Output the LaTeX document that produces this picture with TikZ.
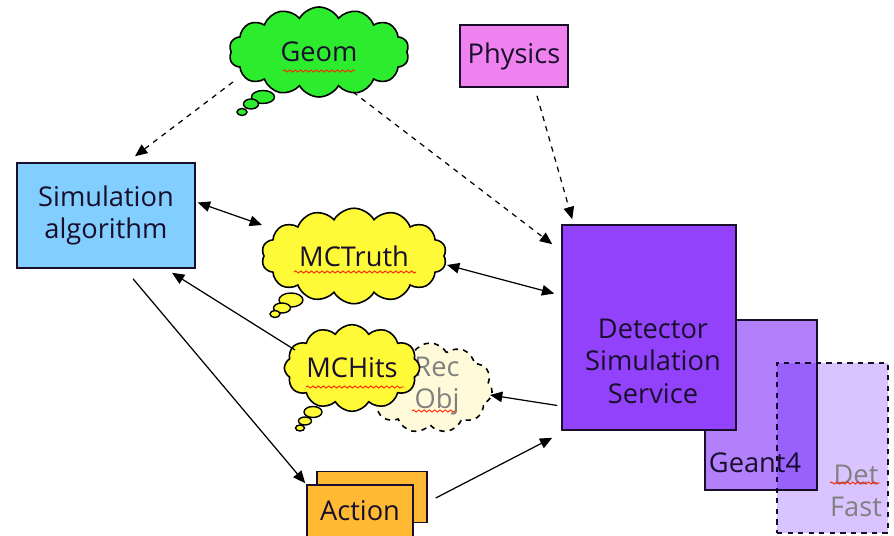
\documentclass[tikz,border=0pt]{standalone}
\usepackage{fontspec}
\setmainfont{Open Sans}
\definecolor{geomGreen}{RGB}{45,235,45}
\definecolor{truthYellow}{RGB}{255,250,55}
\definecolor{recPale}{RGB}{255,251,218}
\definecolor{simBlue}{RGB}{130,206,255}
\definecolor{physPink}{RGB}{240,130,240}
\definecolor{detPurple}{RGB}{145,66,250}
\definecolor{geantPurple}{RGB}{178,128,250}
\definecolor{fastLilac}{RGB}{218,196,255}
\definecolor{actionOrange}{RGB}{255,185,50}
\definecolor{inkDark}{RGB}{25,15,45}
\usetikzlibrary{arrows.meta,positioning,shapes.geometric,shapes.symbols,calc,decorations.pathmorphing}

\begin{document}
\begin{tikzpicture}[x=0.02cm, y=-0.02cm,
    box/.style={rectangle, draw=inkDark, line width=0.9pt, inner sep=0pt,
                font=\fontsize{15.5}{18.5}\selectfont\color{inkDark}, align=center},
    thought/.style={cloud, cloud puffs=14, cloud puff arc=120, draw=black,
                    line width=0.9pt, inner sep=0pt, aspect=2,
                    font=\fontsize{15.5}{18.5}\selectfont\color{inkDark}},
    bubble/.style={ellipse, draw=black, line width=0.8pt, inner sep=0pt},
    caption/.style={font=\fontsize{15.5}{18.5}\selectfont\color{inkDark}, align=center},
    link/.style={-{Triangle[length=7pt,width=6pt]}, line width=0.7pt, black},
    twoway/.style={{Triangle[length=7pt,width=6pt]}-{Triangle[length=7pt,width=6pt]}, line width=0.7pt, black},
    hint/.style={link, dashed},
    squiggle/.style={red!75!orange, line width=0.5pt, decorate,
                     decoration={snake, amplitude=0.6pt, segment length=3pt}}
  ]
  \useasboundingbox (0,0) rectangle (894,536);

  % geometry cloud
  \node[thought, fill=geomGreen, minimum width=36mm, minimum height=18mm] (geom) at (319,52) {Geom};
  \node[bubble, fill=geomGreen, minimum width=4.6mm, minimum height=2.6mm] (geomt1) at (263,97) {};
  \node[bubble, fill=geomGreen, minimum width=3mm, minimum height=2mm] (geomt2) at (251,104) {};
  \node[bubble, fill=geomGreen, minimum width=2mm, minimum height=1.4mm] (geomt3) at (242,112) {};

  % boxes
  \node[box, fill=physPink, minimum width=21.6mm, minimum height=12.4mm] (phys) at (514,56) {Physics};
  \node[box, fill=simBlue, minimum width=35.6mm, minimum height=21mm] (sim) at (106,215.5) {Simulation\\algorithm};

  % MC truth cloud
  \node[thought, fill=truthYellow, minimum width=37mm, minimum height=18mm] (truth) at (354,256) {MCTruth};
  \node[bubble, fill=truthYellow, minimum width=4.8mm, minimum height=2.8mm] (trutht1) at (291,300) {};
  \node[bubble, fill=truthYellow, minimum width=3.4mm, minimum height=2mm] (trutht2) at (282,308) {};
  \node[bubble, fill=truthYellow, minimum width=2mm, minimum height=1.4mm] (trutht3) at (275,314) {};

  % reconstructed objects behind hits
  \node[thought, dashed, fill=recPale, aspect=1.4, cloud puffs=11, minimum width=25mm, minimum height=18mm] (rec) at (430,388) {};
  \node[caption, text=gray] (rectext) at (437,386) {Rec\\Obj};

  % MC hits cloud
  \node[thought, fill=truthYellow, aspect=1.85, cloud puffs=12, minimum width=24mm, minimum height=13mm] (hits) at (352,368) {MCHits};
  \node[bubble, fill=truthYellow, minimum width=3.6mm, minimum height=2.2mm] (hitst1) at (313,412) {};
  \node[bubble, fill=truthYellow, minimum width=2.6mm, minimum height=1.6mm] (hitst2) at (305,421) {};
  \node[bubble, fill=truthYellow, minimum width=1.8mm, minimum height=1.2mm] (hitst3) at (300,428) {};

  % detector service and its back ends
  \node[box, fill=geantPurple, minimum width=22.4mm, minimum height=34mm] (geant) at (761,405) {};
  \node[caption] (geanttext) at (755,463) {Geant4};
  \node[box, fill=detPurple, minimum width=34.8mm, minimum height=41mm] (det) at (649,327.5) {};
  \node[caption] (dettext) at (653,361) {Detector\\Simulation\\Service};
  \begin{scope}[blend mode=multiply]
    \node[box, dashed, fill=fastLilac, minimum width=22.2mm, minimum height=34mm] (fast) at (832.5,448) {};
  \end{scope}
  \node[caption, text=gray] (fasttext) at (856,491) {Det\\Fast};

  % action
  \node[box, fill=actionOrange, minimum width=22mm, minimum height=10.2mm] (actback) at (372,497) {};
  \node[box, fill=actionOrange, minimum width=21.2mm, minimum height=10.4mm] (action) at (360,511) {Action};

  % spell check marks
  \draw[squiggle] (283,71) -- (355,71);
  \draw[squiggle] (294,272) -- (416,272);
  \draw[squiggle] (306,387) -- (404,387);
  \draw[squiggle] (412,411) -- (455,411);
  \draw[squiggle] (830,483) -- (880,483);

  % connectors
  \draw[hint] ($(geom)+(-86,30)$) -- ($(sim.north)+(29,-6)$);
  \draw[hint] ($(geom)+(34,40)$) -- ($(det.north west)+(-9,20)$);
  \draw[hint] ($(phys.south)+(23,8)$) -- ($(det.north west)+(11,-5)$);
  \draw[twoway] ($(sim.east)+(2,-13)$) -- ($(truth)+(-92,-31)$);
  \draw[twoway] ($(truth)+(93,9)$) -- ($(det.west)+(-7,-34)$);
  \draw[link] ($(hits)+(-57,-18)$) -- ($(sim.south)+(66,4)$);
  \draw[link] ($(det.west)+(-4,78)$) -- ($(rec)+(60,7)$);
  \draw[link] ($(sim.south)+(27,10)$) -- ($(action.north west)+(-1,-1)$);
  \draw[link] ($(actback.east)+(8,1)$) -- ($(det.south west)+(-9,7)$);
\end{tikzpicture}
\end{document}
